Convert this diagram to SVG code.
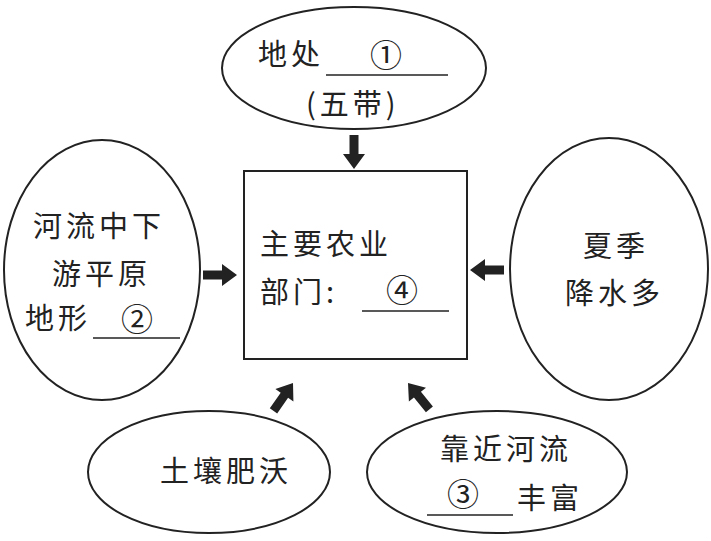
<svg xmlns="http://www.w3.org/2000/svg" xmlns:xlink="http://www.w3.org/1999/xlink" width="711" height="541" viewBox="0 0 711 541">
<style>
.shape{fill:none;stroke:#222;stroke-width:2}
.t{font-family:"Noto Sans CJK SC","Noto Sans",sans-serif;font-size:29px;fill:#222;letter-spacing:4px}
.n{font-family:"Noto Sans CJK SC","Noto Sans",sans-serif;font-size:32px;fill:#222;text-anchor:middle}
.u{stroke:#222;stroke-width:1.5}
.arr{fill:#222}
</style>
<defs>
<path id="arrow" d="M0,0 L-15,-11 L-15,-4.5 L-34,-4.5 L-34,4.5 L-15,4.5 L-15,11 Z"/>
</defs>
<rect width="711" height="541" fill="#fff"/>
<g id="connectors" class="arr">
<use xlink:href="#arrow" href="#arrow" transform="translate(354,169) rotate(90)"/>
<use xlink:href="#arrow" href="#arrow" transform="translate(237,275)"/>
<use xlink:href="#arrow" href="#arrow" transform="translate(470,270) rotate(180)"/>
<use xlink:href="#arrow" href="#arrow" transform="translate(293,383) rotate(-55)"/>
<use xlink:href="#arrow" href="#arrow" transform="translate(408,383) rotate(-129)"/>
</g>
<g id="node-top">
<ellipse class="shape" cx="354" cy="68" rx="132" ry="61"/>
<text class="t" x="258" y="65">地处</text>
<text class="n" x="386" y="67">①</text>
<line class="u" x1="326" y1="75" x2="448" y2="75"/>
<text class="t" x="306" y="115" letter-spacing="1">(五带)</text>
</g>
<g id="node-center">
<rect class="shape" x="244" y="171" width="223" height="188"/>
<text class="t" x="260" y="255">主要农业</text>
<text class="t" x="260" y="303">部门:</text>
<text class="n" x="402" y="302">④</text>
<line class="u" x1="362" y1="311" x2="449" y2="311"/>
</g>
<g id="node-left">
<ellipse class="shape" cx="102" cy="270" rx="98" ry="130"/>
<text class="t" x="33" y="237">河流中下</text>
<text class="t" x="52" y="285">游平原</text>
<text class="t" x="25" y="329">地形</text>
<text class="n" x="137" y="331">②</text>
<line class="u" x1="93" y1="338" x2="180" y2="338"/>
</g>
<g id="node-right">
<ellipse class="shape" cx="609" cy="269" rx="99" ry="131"/>
<text class="t" x="583" y="257">夏季</text>
<text class="t" x="565" y="304">降水多</text>
</g>
<g id="node-bottom-left">
<ellipse class="shape" cx="209" cy="472" rx="121" ry="61"/>
<text class="t" x="160" y="482">土壤肥沃</text>
</g>
<g id="node-bottom-right">
<ellipse class="shape" cx="497" cy="472" rx="130" ry="61"/>
<text class="t" x="440" y="460">靠近河流</text>
<text class="n" x="463" y="506">③</text>
<line class="u" x1="427" y1="515" x2="513" y2="515"/>
<text class="t" x="517" y="509">丰富</text>
</g>
</svg>
